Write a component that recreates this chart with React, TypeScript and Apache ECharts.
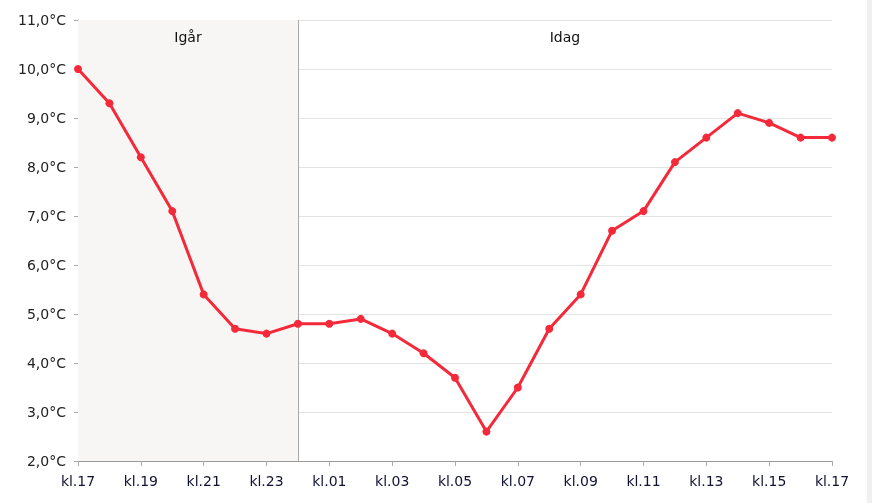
import React, { useEffect, useRef } from "react";
import * as echarts from "echarts";

const hours: string[] = [
  "kl.17", "kl.18", "kl.19", "kl.20", "kl.21", "kl.22", "kl.23", "kl.00",
  "kl.01", "kl.02", "kl.03", "kl.04", "kl.05", "kl.06", "kl.07", "kl.08",
  "kl.09", "kl.10", "kl.11", "kl.12", "kl.13", "kl.14", "kl.15", "kl.16", "kl.17",
];
const temps: number[] = [
  10.0, 9.3, 8.2, 7.1, 5.4, 4.7, 4.6, 4.8,
  4.8, 4.9, 4.6, 4.2, 3.7, 2.6, 3.5, 4.7,
  5.4, 6.7, 7.1, 8.1, 8.6, 9.1, 8.9, 8.6, 8.6,
];
const yesterdayLabel = "Igår";
const todayLabel = "Idag";
const midnightIndex = 7;

export default function App() {
  const ref = useRef<HTMLDivElement>(null);
  useEffect(() => {
    if (!ref.current) return;
    const chart = echarts.init(ref.current, undefined, { renderer: "svg" });
    const font = "Verdana, 'DejaVu Sans', sans-serif";
    chart.setOption({
      animation: false,
      textStyle: { fontFamily: font },
      grid: { left: 78, right: 40, top: 20, bottom: 42 },
      graphic: [
        { type: "rect", shape: { x: 867, y: 0, width: 5, height: 503 }, style: { fill: "#f0f0f0" }, silent: true },
      ],
      xAxis: {
        type: "category",
        data: hours.map((h, i) => i + ":" + h),
        boundaryGap: false,
        axisLine: { lineStyle: { color: "#999", width: 1 } },
        axisTick: { interval: 1, length: 5, lineStyle: { color: "#aaa" } },
        axisLabel: {
          interval: 1,
          color: "#111133",
          fontSize: 14,
          fontFamily: font,
          margin: 13,
          formatter: (v: string) => v.split(":")[1],
        },
        splitLine: { show: false },
      },
      yAxis: {
        type: "value",
        min: 2,
        max: 11,
        interval: 1,
        axisLine: { show: true, lineStyle: { color: "#999" } },
        axisTick: { show: true, length: 4, lineStyle: { color: "#aaa" } },
        axisLabel: {
          color: "#222",
          fontSize: 14,
          fontFamily: font,
          margin: 12,
          formatter: (v: number) => v.toFixed(1).replace(".", ",") + "°C",
        },
        splitLine: { lineStyle: { color: "#e3e3e3" } },
      },
      series: [
        {
          type: "line",
          data: temps,
          symbol: "circle",
          symbolSize: 8,
          lineStyle: { color: "#f42a3a", width: 3 },
          itemStyle: { color: "#f42a3a" },
          z: 5,
          markArea: {
            silent: true,
            itemStyle: { color: "#f7f6f4" },
            label: {
              show: true,
              position: "insideTop",
              distance: 10,
              color: "#111",
              fontSize: 14,
              fontFamily: font,
            },
            data: [
              [
                { xAxis: 0, name: yesterdayLabel },
                { xAxis: midnightIndex },
              ],
              [
                { xAxis: midnightIndex, name: todayLabel, itemStyle: { color: "rgba(255,255,255,0)" } },
                { xAxis: hours.length - 1 },
              ],
            ],
          },
          markLine: {
            silent: true,
            symbol: "none",
            label: { show: false },
            lineStyle: { color: "#aaa", type: "solid", width: 1 },
            data: [{ xAxis: midnightIndex }],
          },
        },
      ],
    });
    return () => chart.dispose();
  }, []);
  return <div ref={ref} style={{ position: "fixed", left: 0, top: 0, width: 872, height: 503 }} />;
}
